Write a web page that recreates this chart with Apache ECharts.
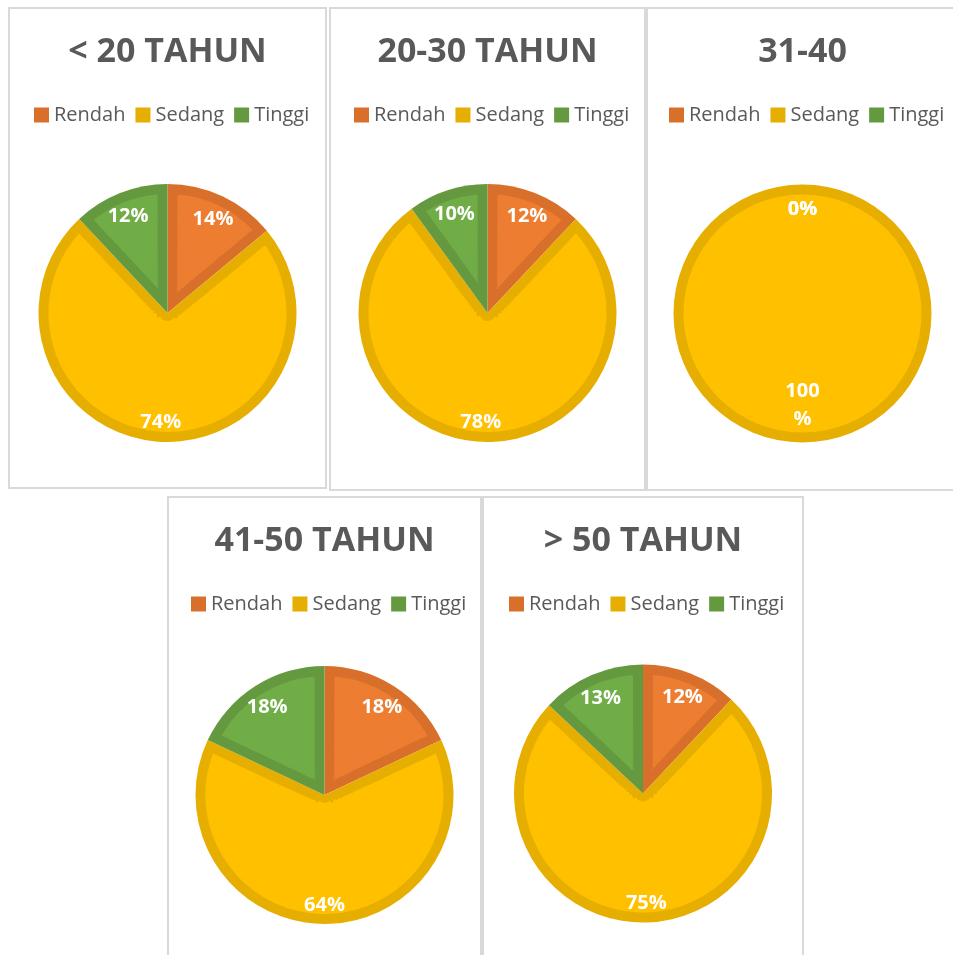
<!DOCTYPE html>
<html>
<head>
<meta charset="utf-8">
<script src="https://cdn.jsdelivr.net/npm/echarts@6/dist/echarts.min.js"></script>
<style>
  html, body { margin: 0; padding: 0; background: #ffffff; }
  body { width: 953px; height: 955px; position: relative; overflow: hidden; }
  .chart { position: absolute; }
  .frame { position: absolute; box-sizing: border-box; border: 2px solid #d9d9d9; pointer-events: none; }
</style>
</head>
<body>
<script>
// ---- data ----
const categories = ['Rendah', 'Sedang', 'Tinggi'];
const panelTitles = ['< 20 TAHUN', '20-30 TAHUN', '31-40', '41-50 TAHUN', '> 50 TAHUN'];
const under20 = [14, 74, 12];
const age20to30 = [12, 78, 10];
const age31to40 = [0, 100, 0];
const age41to50 = [18, 64, 18];
const over50 = [12, 75, 13];

// ---- styling ----
const lightColors = ['#ED7D31', '#FFC000', '#70AD47'];
const darkColors = ['#D8702C', '#E6AE00', '#64993F'];
const FONT = 'Open Sans';
const OUTER_R = 129;     // outer radius of pie (dark rim)
const BORDER = 10;       // inner border width of each slice
const RING_STEP = 3;

const panels = [
  { left: 8,   top: 7,   width: 319, height: 482, cy: 306,   values: under20 },
  { left: 329, top: 7,   width: 317, height: 484, cy: 306,   values: age20to30 },
  { left: 646, top: 7,   width: 313, height: 484, cy: 306.5, values: age31to40 },
  { left: 167, top: 496, width: 315, height: 470, cy: 299,   values: age41to50 },
  { left: 482, top: 496, width: 322, height: 470, cy: 297.5, values: over50 }
];

// measure legend width to offset it like the original (slightly right of centre)
const mctx = document.createElement('canvas').getContext('2d');
mctx.font = '20px "' + FONT + '"';
function legendWidth() {
  let w = 0;
  categories.forEach(function (c) { w += 15 + 5 + mctx.measureText(c).width; });
  return w + 10 * (categories.length - 1);
}

const TRANSPARENT = 'rgba(0,0,0,0)';

// light "inner" part of each slice, built as thin rings so the dark edge keeps a constant width
function innerRingData(vals, rMid) {
  const out = [];
  const nonZero = vals.filter(function (v) { return v > 0; }).length;
  vals.forEach(function (v, i) {
    if (v <= 0) { out.push({ name: categories[i], value: 0, itemStyle: { color: TRANSPARENT } }); return; }
    if (nonZero <= 1) { out.push({ name: categories[i], value: v, itemStyle: { color: lightColors[i] } }); return; }
    if (rMid <= BORDER) { out.push({ name: categories[i], value: v, itemStyle: { color: TRANSPARENT } }); return; }
    const padDeg = Math.asin(Math.min(1, BORDER / rMid)) * 180 / Math.PI;
    const padVal = padDeg / 3.6;
    if (2 * padVal >= v) { out.push({ name: categories[i], value: v, itemStyle: { color: TRANSPARENT } }); return; }
    out.push({ name: categories[i], value: padVal, itemStyle: { color: TRANSPARENT } });
    out.push({ name: categories[i], value: v - 2 * padVal, itemStyle: { color: lightColors[i] } });
    out.push({ name: categories[i], value: padVal, itemStyle: { color: TRANSPARENT } });
  });
  return out;
}

panels.forEach(function (p, k) {
  const el = document.createElement('div');
  el.className = 'chart';
  el.style.left = p.left + 'px';
  el.style.top = p.top + 'px';
  el.style.width = p.width + 'px';
  el.style.height = p.height + 'px';
  document.body.appendChild(el);
  const fr = document.createElement('div');
  fr.className = 'frame';
  fr.style.left = p.left + 'px';
  fr.style.top = p.top + 'px';
  fr.style.width = p.width + 'px';
  fr.style.height = p.height + 'px';
  document.body.appendChild(fr);

  const vals = p.values;
  const data = categories.map(function (c, i) { return { name: c, value: vals[i] }; });
  const common = {
    type: 'pie', silent: true, center: ['50%', p.cy],
    startAngle: 90, clockwise: true,
    label: { show: false }, labelLine: { show: false },
    emphasis: { disabled: true }
  };

  const series = [];
  series.push(Object.assign({}, common, {
    radius: [0, OUTER_R],
    itemStyle: { color: function (d) { return darkColors[d.dataIndex]; } },
    data: data
  }));
  const innerR = OUTER_R - BORDER;
  for (let r = 0; r < innerR; r += RING_STEP) {
    const rIn = r, rOut = Math.min(r + RING_STEP, innerR);
    series.push(Object.assign({}, common, {
      radius: [Math.max(0, rIn - 1), rOut],
      data: innerRingData(vals, (rIn + rOut) / 2)
    }));
  }
  series.push(Object.assign({}, common, {
    radius: [78, 130],
    avoidLabelOverlap: false,
    itemStyle: { color: TRANSPARENT },
    label: {
      show: true, position: 'inside',
      color: '#ffffff', fontFamily: FONT, fontWeight: 'bold', fontSize: 20, lineHeight: 28,
      formatter: function (d) { return d.value >= 100 ? d.value + '\n%' : d.value + '%'; }
    },
    labelLayout: function (params) {
      return vals[params.dataIndex] >= 100 ? { dy: -15 } : { dy: 3 };
    },
    data: data
  }));

  const lw = legendWidth();
  const chart = echarts.init(el, null, { renderer: 'canvas' });
  chart.setOption({
    animation: false,
    title: {
      text: panelTitles[k],
      left: 'center',
      top: 23,
      textStyle: { fontFamily: FONT, fontWeight: 'bold', fontSize: 34, color: '#595959' }
    },
    legend: {
      left: Math.round((p.width - lw) / 2 + 4),
      top: 98,
      padding: 0,
      icon: 'rect',
      itemWidth: 15,
      itemHeight: 15,
      itemGap: 10,
      selectedMode: false,
      data: categories.map(function (c, i) { return { name: c, itemStyle: { color: darkColors[i] } }; }),
      textStyle: { fontFamily: FONT, fontSize: 20, color: '#595959' }
    },
    series: series
  });
});
</script>
</body>
</html>
